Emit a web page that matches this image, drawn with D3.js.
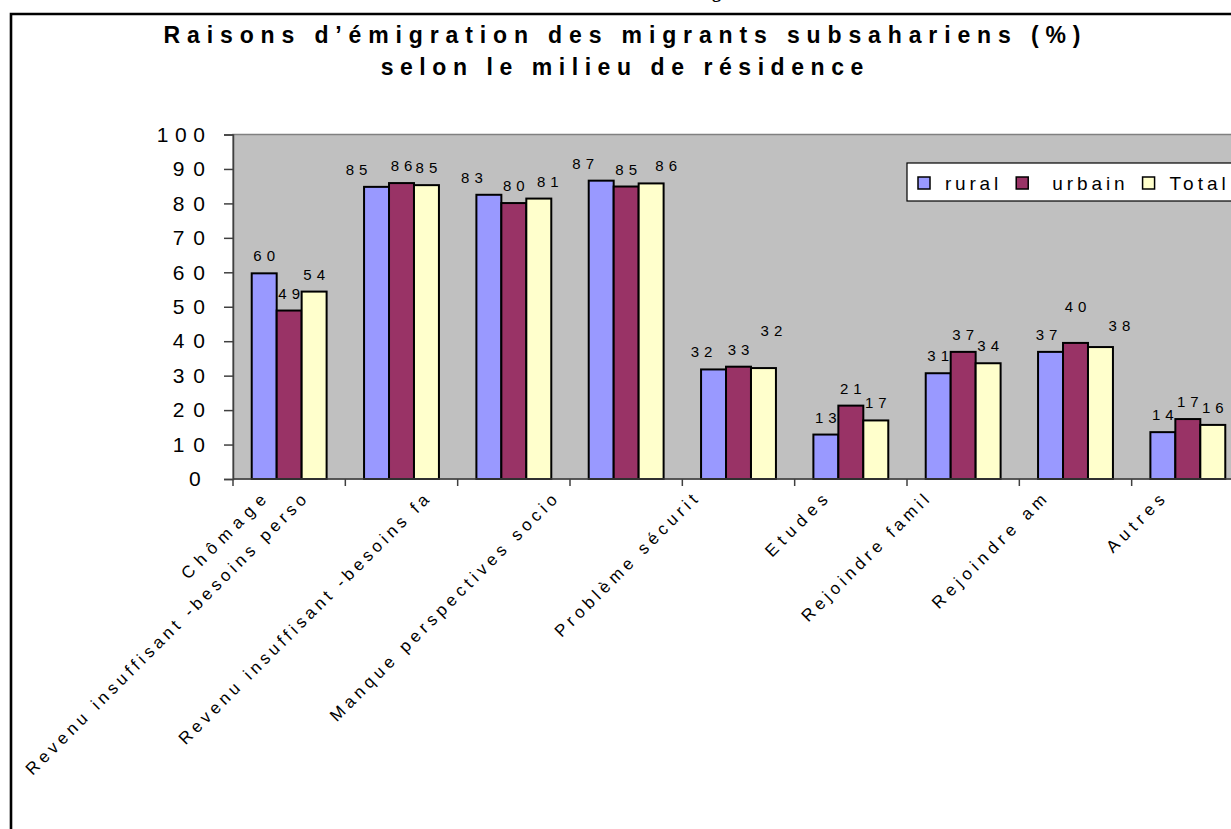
<!DOCTYPE html>
<html>
<head>
<meta charset="utf-8">
<script src="https://cdn.jsdelivr.net/npm/d3@7"></script>
<style>
  body { margin: 0; background: #fff; }
  svg { display: block; font-family: Arial, "Liberation Sans", sans-serif; }
</style>
</head>
<body>
<script>
// categories (labels as they are visible, cut off by Excel)
let categories = [
  "Chômage",
  "Revenu insuffisant -besoins perso",
  "Revenu insuffisant -besoins fa",
  "Manque perspectives socio",
  "Problème sécurit",
  "Etudes",
  "Rejoindre famil",
  "Rejoindre am",
  "Autres"
];
let series = ["rural", " urbain", "Total"];
let rural  = [59.7, 84.8, 82.5, 86.6, 31.8, 12.9, 30.7, 36.9, 13.6];
let urbain = [48.9, 85.9, 80.1, 84.9, 32.6, 21.3, 36.9, 39.5, 17.4];
let total  = [54.4, 85.3, 81.4, 85.8, 32.2, 17.0, 33.6, 38.3, 15.7];
let yTicks = [0, 10, 20, 30, 40, 50, 60, 70, 80, 90, 100];
let titre = ["Raisons d\u2019émigration des migrants subsahariens (%)", "selon le milieu de résidence"];

let valeurs = [rural, urbain, total];
let couleurs = ["#9999FF", "#993366", "#FFFFCC"];

// layout tweaks (Excel moved some labels by hand)
let labelShift = [0, 72, 62, 46, 18, 0, 11, 6, 0];
let nudge = {
  "0-1": [-20, 0], "0-2": [-17, 0], "0-3": [-18, 0], "0-4": [-12, 0], "0-7": [-4, 0],
  "1-7": [0, -19],
  "2-2": [9, 0], "2-3": [15, 0], "2-4": [8, -20], "2-7": [19, -4]
};

let w = 1231, h = 829;
let svg = d3.select("body").append("svg").attr("width", w).attr("height", h);

// spreads text out like the old Excel rendering (wide letter spacing)
function stretch(sel, k) {
  sel.each(function () {
    let t = d3.select(this);
    let a = getComputedStyle(this).textAnchor;
    let L = this.getComputedTextLength();
    let W = L * k;
    let x0 = +t.attr("x") || 0;
    let dx = a == "end" ? W : a == "middle" ? W / 2 : 0;
    t.attr("x", x0 - dx).attr("text-anchor", "start")
      .attr("textLength", W).attr("lengthAdjust", "spacing");
  });
}

// bit of the page heading above the frame
svg.append("text").attr("x", 712).attr("y", -2)
  .attr("font-family", "Liberation Serif, serif").attr("font-weight", "bold")
  .attr("font-size", 18).text("g");

// frame
svg.append("path").attr("d", "M11,900V14H1300")
  .attr("fill", "none").attr("stroke", "#000").attr("stroke-width", 2.6);

// title
svg.selectAll(".titre").data(titre).enter().append("text")
  .attr("class", "titre")
  .attr("x", 622).attr("y", (d, i) => 43 + i * 32)
  .attr("text-anchor", "middle").attr("font-weight", "bold").attr("font-size", 23)
  .text(d => d)
  .call(stretch, 1.58);

let x = d3.scaleBand().domain(categories).range([233, 1244])
  .paddingInner(1 / 3).paddingOuter(1 / 6);
let xs = d3.scaleBand().domain(d3.range(series.length)).range([0, x.bandwidth()]);
let y = d3.scaleLinear().domain([0, 100]).range([479, 134.5]);

// plot area
svg.append("rect").attr("x", 233).attr("y", y(100))
  .attr("width", 1244 - 233).attr("height", y(0) - y(100))
  .attr("fill", "#C0C0C0").attr("stroke", "#808080").attr("stroke-width", 1.5);

// bars
let groupes = svg.selectAll(".grp").data(categories).enter().append("g")
  .attr("class", "grp")
  .attr("transform", d => "translate(" + x(d) + ",0)");

groupes.selectAll("rect")
  .data((d, i) => valeurs.map((s, j) => ({ v: s[i], j: j, i: i })))
  .enter().append("rect")
  .attr("x", d => xs(d.j))
  .attr("y", d => y(d.v))
  .attr("width", xs.bandwidth())
  .attr("height", d => y(0) - y(d.v))
  .attr("fill", d => couleurs[d.j])
  .attr("stroke", "#000").attr("stroke-width", 2);

// data labels
groupes.selectAll("text")
  .data((d, i) => valeurs.map((s, j) => ({ v: s[i], j: j, i: i })))
  .enter().append("text")
  .attr("x", d => xs(d.j) + xs.bandwidth() / 2 + (nudge[d.j + "-" + d.i] || [0, 0])[0])
  .attr("y", d => y(d.v) - 12 + (nudge[d.j + "-" + d.i] || [0, 0])[1])
  .attr("text-anchor", "middle").attr("font-size", 15)
  .text(d => Math.round(d.v))
  .call(stretch, 1.3);

// y axis
let yAxis = svg.append("g").attr("transform", "translate(233,0)")
  .call(d3.axisLeft(y).tickValues(yTicks).tickSize(9).tickPadding(19));
yAxis.select(".domain").attr("stroke", "#404040").attr("stroke-width", 1.5);
yAxis.selectAll(".tick line").attr("stroke", "#404040").attr("stroke-width", 1.5);
yAxis.selectAll("text").attr("font-size", 21).attr("fill", "#000")
  .attr("font-family", "Arial, Liberation Sans, sans-serif")
  .call(stretch, 1.38);

// x axis line and ticks at category borders
let bords = categories.map(c => x(c) - (x.step() - x.bandwidth()) / 2);
bords.push(bords[bords.length - 1] + x.step());
svg.append("line").attr("x1", 233).attr("x2", 1244).attr("y1", y(0)).attr("y2", y(0))
  .attr("stroke", "#404040").attr("stroke-width", 1.5);
svg.selectAll(".xt").data(bords).enter().append("line")
  .attr("x1", d => d).attr("x2", d => d)
  .attr("y1", y(0)).attr("y2", y(0) + 7)
  .attr("stroke", "#404040").attr("stroke-width", 1.5);

// category labels, rotated
svg.selectAll(".cat").data(categories).enter().append("g")
  .attr("transform", (d, i) => "translate(" + (x(d) + x.bandwidth() / 2 - 22 - labelShift[i]) + "," + (y(0) + 22) + ") rotate(-45)")
  .append("text")
  .attr("text-anchor", "end").attr("font-size", 17)
  .text(d => d)
  .call(stretch, 1.52);

// legend
let leg = svg.append("g");
leg.append("rect").attr("x", 907).attr("y", 163).attr("width", 400).attr("height", 38)
  .attr("fill", "#fff").attr("stroke", "#000").attr("stroke-width", 1.2);
let cx = 918;
series.forEach(function (s, j) {
  leg.append("rect").attr("x", cx).attr("y", 177).attr("width", 12).attr("height", 12)
    .attr("fill", couleurs[j]).attr("stroke", "#000").attr("stroke-width", 1.5);
  let t = leg.append("text").attr("x", cx + 27).attr("y", 190)
    .attr("font-size", 19).style("white-space", "pre").text(s)
    .call(stretch, 1.4);
  cx = cx + 27 + (+t.attr("textLength")) + 18;
});
</script>
</body>
</html>
